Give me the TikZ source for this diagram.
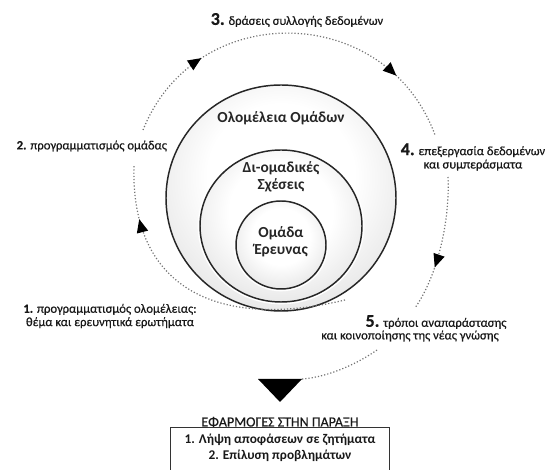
\documentclass[tikz,border=0pt]{standalone}
\usepackage{fontspec}
\setmainfont{Carlito}
\newfontfamily\labelfont{Carlito}[FakeBold=0.5]
\usetikzlibrary{arrows.meta,decorations.markings}

\newcommand{\stepnum}[1]{{\fontsize{13.5}{12}\selectfont\bfseries #1}}

\pgfdeclareradialshading{ringshade}{\pgfpoint{0bp}{6bp}}{color(0bp)=(white); color(16bp)=(white); color(44bp)=(black!19); color(50bp)=(black!22); color(80bp)=(black!22)}

\tikzset{
	ring/.style={shading=ringshade, draw=black!85, line width=1.1pt, preaction={draw=white, line width=3.5pt}},
	ringlabel/.style={font=\fontsize{11.5}{13}\selectfont\bfseries, text=black!85, align=center},
	steplabel/.style={font=\labelfont\fontsize{9.5}{10}\selectfont, text=black!90, align=center},
	dotline/.style={draw=black!55, line width=0.9pt, dash pattern=on 0.9pt off 1.5pt},
	midarrow/.style={postaction={decorate, decoration={markings, mark=at position #1 with {\arrow[black]{Triangle[length=10pt,width=8.5pt]}}}}}
}

\begin{document}
\begin{tikzpicture}[x=0.75pt, y=0.75pt]
		\useasboundingbox (0,0) rectangle (545,470);
		\shade[ring] (281,272) ellipse [x radius=115, y radius=113];
		\shade[ring] (281,244) ellipse [x radius=81, y radius=76];
		\shade[ring] (281,225) ellipse [x radius=45, y radius=44];
		\node[ringlabel] (olomeleia) at (281,352) {Ολομέλεια Ομάδων};
		\node[ringlabel] (diomadikes) at (281,293) {Δι-ομαδικές\\Σχέσεις};
		\node[ringlabel] (omada) at (281,228) {Ομάδα\\Έρευνας};
		\node[steplabel] (step1) at (110,154) {\textbf{1.} προγραμματισμός ολομέλειας:\\θέμα και ερευνητικά ερωτήματα};
		\node[steplabel, anchor=west] (step2) at (12,324) {\textbf{2.} προγραμματισμός ομάδας};
		\node[steplabel] (step3) at (297,450) {\stepnum{3.} δράσεις συλλογής δεδομένων};
		\node[steplabel] (step4) at (473,313) {\stepnum{4.} επεξεργασία δεδομένων\\και συμπεράσματα};
		\node[steplabel] (step5) at (436,148) {\stepnum{5.} τρόποι αναπαράστασης};
		\node[steplabel] (step5b) at (410,134) {και κοινοποίησης της νέας γνώσης};
		\node[font=\labelfont\fontsize{10.5}{12}\selectfont, text=black!90] (praxi) at (280,48) {ΕΦΑΡΜΟΓΕΣ ΣΤΗΝ ΠΑΡΑΞΗ};
		\node[draw=black!80, line width=0.8pt, anchor=north, align=center, minimum width=164pt, inner ysep=5pt, text depth=34pt, font=\fontsize{10}{12}\selectfont\bfseries, text=black!90] (efarmoges) at (280,43) {1. Λήψη αποφάσεων σε ζητήματα\\2. Επίλυση προβλημάτων};
		\coordinate (a1) at (345,170);
		\coordinate (a2) at (134,305);
		\coordinate (b1) at (143,340);
		\coordinate (b2) at (435,335);
		\coordinate (c1) at (448,293);
		\coordinate (c2) at (415,162);
		\coordinate (d1) at (377,120);
		\coordinate (trileft) at (258,91);
		\coordinate (triright) at (302,91);
		\coordinate (tritip) at (280,68);
		\draw[dotline, midarrow=0.82] (a1) .. controls (220,140) and (130,180) .. (a2);
		\draw[dotline, midarrow=0.25, midarrow=0.81] (b1) .. controls (196,472) and (386,468) .. (b2);
		\draw[dotline, midarrow=0.67] (c1) .. controls (450,250) and (438,195) .. (c2);
		\draw[dotline] (d1) .. controls (360,108) and (330,93) .. (triright);
		\fill[black] (trileft) -- (triright) -- (tritip) -- cycle;
	\end{tikzpicture}
\end{document}
